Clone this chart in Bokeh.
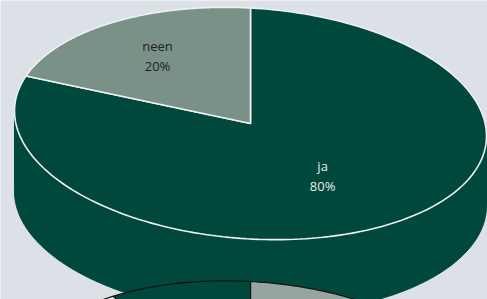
import numpy as np
from bokeh.plotting import figure
from bokeh.models import Range1d, ColumnDataSource
from bokeh.core.properties import value
from bokeh.embed import file_html
from bokeh.resources import INLINE

# ---- data -------------------------------------------------------------
categories = ["ja", "neen"]
shares = [80, 20]
colors = ["#00483C", "#7A9188"]
label_colors = ["#E4EBE8", "#1E1E1E"]

# second (cut-off) pie chart visible at the bottom edge
categories2 = ["a", "b", "c"]
shares2 = [60.0, 29.8, 10.2]
colors2 = ["#98A59F", "#F2F2F2", "#00483C"]

# ---- layout (pixel space of the reference image) ----------------------
CX, CY, RA, RB, SHEAR = 250.0, 123.0, 236.0, 115.5, 0.053
DEPTH, SHEAR_B = 75.0, 0.03
CX2, CY2, RA2, RB2, SHEAR2 = 250.0, 393.0, 230.0, 112.0, 0.054
LABEL_R = [0.52, 0.67]
BG = "#DBE1E6"
W, H = 487, 299


def pt(phi_deg, r, cx, cy, a, b, k):
    phi = np.radians(phi_deg)
    dx = r * a * np.cos(phi)
    dy = -r * b * np.sin(phi) + k * dx
    return cx + dx, cy + dy


def slice_angles(vals):
    tot = float(sum(vals))
    cum = np.concatenate([[0.0], np.cumsum(vals)]) / tot * 360.0
    # clockwise from 12 o'clock -> math angle
    return [(90.0 - cum[i], 90.0 - cum[i + 1]) for i in range(len(vals))]


def wedge(p0, p1, cx, cy, a, b, k):
    ph = np.linspace(p0, p1, 200)
    x, y = pt(ph, 1.0, cx, cy, a, b, k)
    return [cx] + list(x), [cy] + list(y)


p = figure(width=W, height=H, x_range=Range1d(0, 487), y_range=Range1d(299, 0),
           output_backend="svg", toolbar_location=None, min_border=0,
           x_axis_type=None, y_axis_type=None)
p.grid.visible = False
p.outline_line_color = None
p.background_fill_color = BG
p.border_fill_color = BG

# ---- side of the main 3D pie ------------------------------------------
angs = slice_angles(shares)
sxs, sys, scol = [], [], []
for (a0, a1), c in zip(angs, colors):
    lo, hi = sorted((a0, a1))
    for shift in (-360.0, 0.0, 360.0):
        s0, s1 = max(lo + shift, 180.0), min(hi + shift, 360.0)
        if s1 > s0:
            ph = np.linspace(s0, s1, 200)
            tx, ty = pt(ph, 1.0, CX, CY, RA, RB, SHEAR)
            bx, by = pt(ph[::-1], 1.0, CX, CY + DEPTH, RA, RB, SHEAR_B)
            sxs.append(list(tx) + list(bx))
            sys.append(list(ty) + list(by))
            scol.append(c)
p.patches(xs="xs", ys="ys", fill_color="color", line_color="color", line_width=1,
          source=ColumnDataSource(dict(xs=sxs, ys=sys, color=scol)))

# ---- top face ---------------------------------------------------------
txs, tys = [], []
for (a0, a1) in angs:
    x, y = wedge(a0, a1, CX, CY, RA, RB, SHEAR)
    txs.append(x)
    tys.append(y)
p.patches(xs="xs", ys="ys", fill_color="color", line_color="#EEF1F0", line_width=1.6,
          source=ColumnDataSource(dict(xs=txs, ys=tys, color=colors)))

# ---- labels -----------------------------------------------------------
tot = float(sum(shares))
lx, ly, lt = [], [], []
for (a0, a1), cat, v, r in zip(angs, categories, shares, LABEL_R):
    x, y = pt((a0 + a1) / 2.0, r, CX, CY, RA, RB, SHEAR)
    lx.append(float(x))
    ly.append(float(y))
    lt.append(f"{cat}\n{v / tot * 100:.0f}%")
p.text(x="x", y="y", text="t", text_color="c", text_align="center", text_baseline="middle",
       text_font=value("Open Sans"), text_font_size="13px", text_line_height=1.1,
       source=ColumnDataSource(dict(x=lx, y=ly, t=lt, c=label_colors)))

# ---- second pie (mostly out of view, in front) -------------------------
xs2, ys2 = [], []
for (a0, a1) in slice_angles(shares2):
    x, y = wedge(a0, a1, CX2, CY2, RA2, RB2, SHEAR2)
    xs2.append(x)
    ys2.append(y)
p.patches(xs="xs", ys="ys", fill_color="color", line_color="#111111", line_width=1.2,
          source=ColumnDataSource(dict(xs=xs2, ys=ys2, color=colors2)))

open("out.html", "w").write(file_html(p, INLINE))
